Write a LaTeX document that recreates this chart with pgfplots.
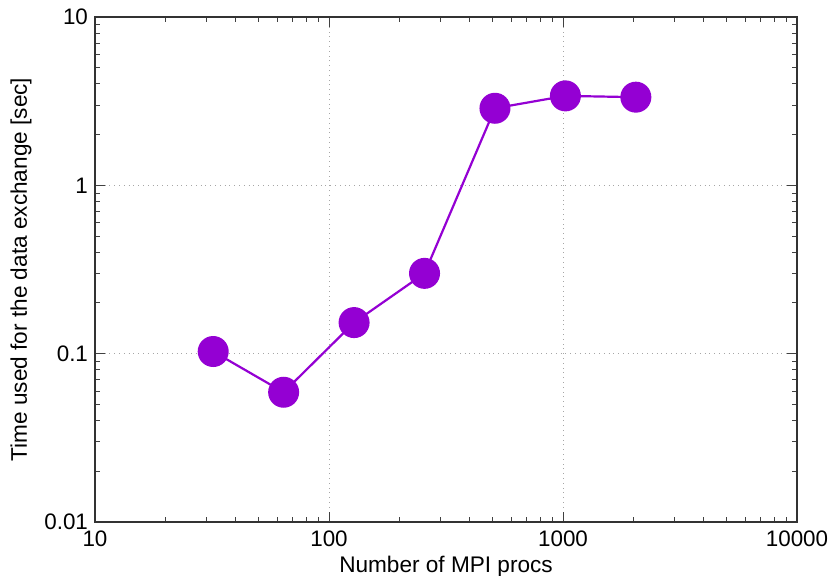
\documentclass[border=0pt]{standalone}
\usepackage{pgfplots}
\pgfplotsset{compat=1.18}
\usepackage{fontspec}
\setmainfont{Liberation Sans}
\definecolor{gpviolet}{RGB}{148,0,211}
\begin{document}
\begin{tikzpicture}
\begin{axis}[
  name=ax,
  scale only axis,
  width=351pt, height=252.5pt,
  xmode=log, ymode=log,
  xmin=10, xmax=10000, ymin=0.01, ymax=10,
  xtick={10,100,1000,10000},
  xticklabels={10,100,1000,10000},
  ytick={0.01,0.1,1,10},
  yticklabels={0.01,0.1,1,10},
  tick align=inside,
  major tick length=5pt,
  minor tick length=2.5pt,
  tick style={black!75, line width=0.5pt},
  axis line style={black!80, line width=0.8pt},
  grid=major,
  major grid style={gray!70, dotted, line width=0.5pt},
  xlabel={Number of MPI procs},
  ylabel={Time used for the data exchange [sec]},
  label style={font=\fontsize{11.3pt}{13pt}\selectfont},
  tick label style={font=\fontsize{11.2pt}{13pt}\selectfont},
  xlabel style={yshift=2.5pt},
  ylabel style={yshift=-0.5pt},
  xticklabel style={yshift=-1pt},
  /pgf/number format/assume math mode=true,
]
\addplot[gpviolet, line width=1.1pt, mark=*, mark size=7.2pt, mark options={fill=gpviolet, draw=gpviolet}]
coordinates {
(32,0.103)
(64,0.059)
(128,0.153)
(256,0.300)
(512,2.87)
(1024,3.40)
(2048,3.34)
};
\end{axis}
\pgfresetboundingbox
\path ([xshift=-47.5pt,yshift=-27pt]ax.south west) rectangle ([xshift=18pt,yshift=8.5pt]ax.north east);
\end{tikzpicture}
\end{document}
